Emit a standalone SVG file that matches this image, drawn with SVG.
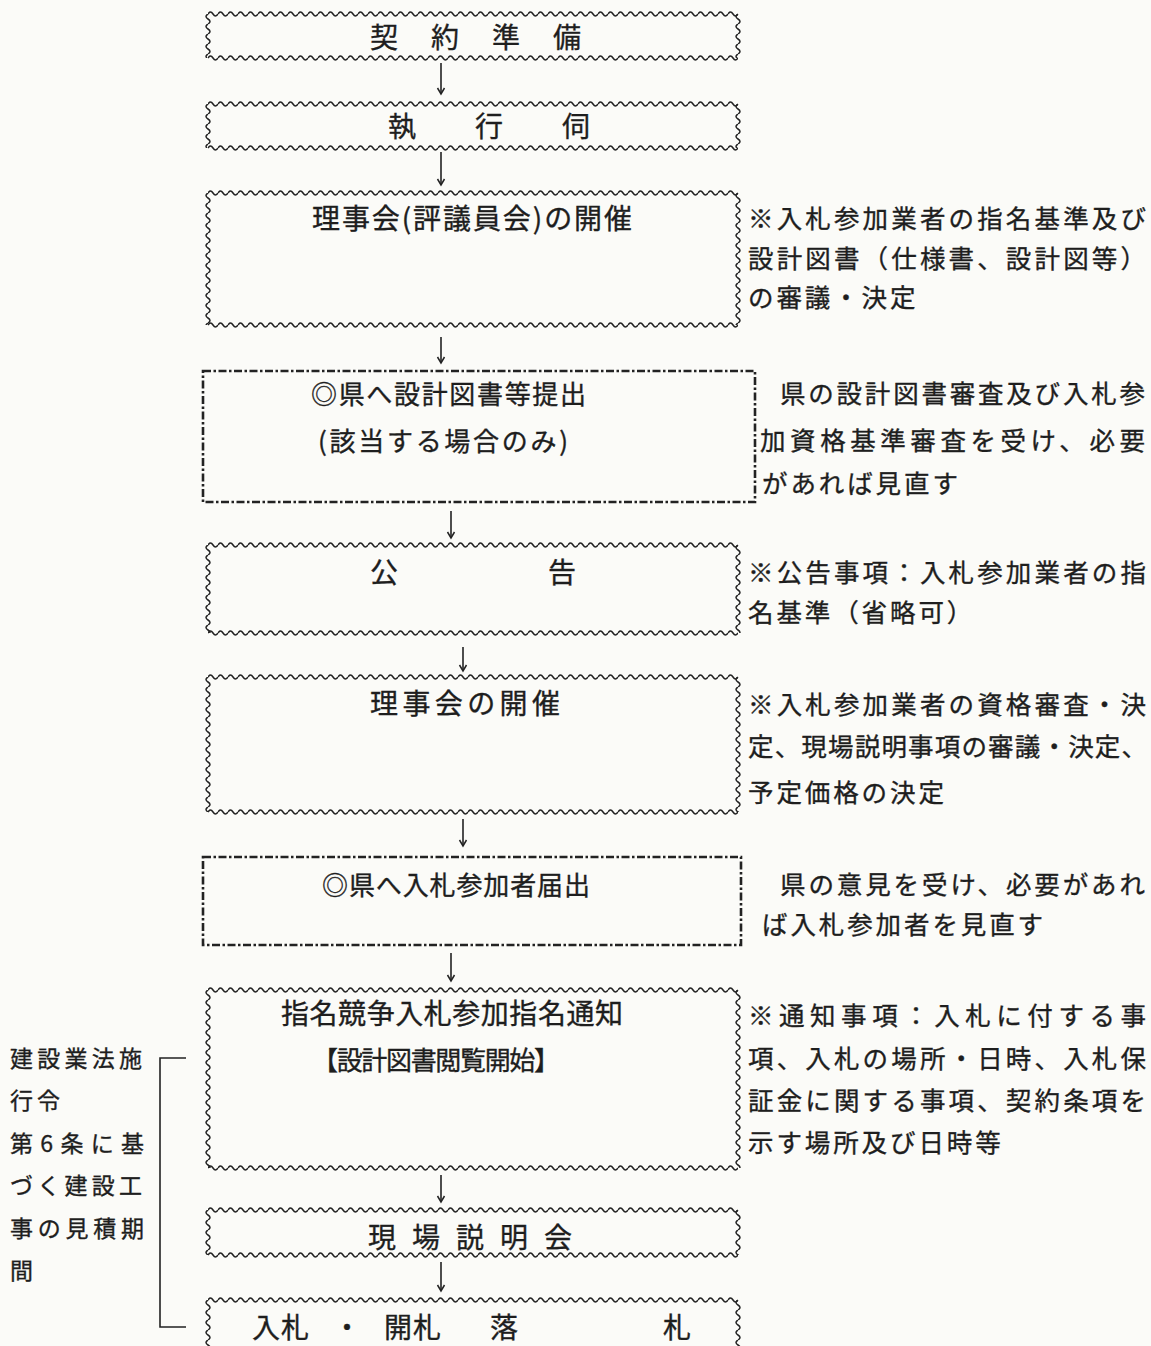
<svg xmlns="http://www.w3.org/2000/svg" width="1151" height="1346" viewBox="0 0 1151 1346">
<defs>
<style>
.t{font-family:"Noto Sans CJK JP","Noto Sans CJK SC",sans-serif;fill:#1e1e1e;stroke:#1e1e1e;stroke-width:0.35}
.title{font-size:28px}
.sub{font-size:26px}
.note{font-size:25.5px;letter-spacing:2.9px}
.full{font-size:25.5px}
.side{font-size:23px;letter-spacing:4px}
.wh{fill:url(#wh)}
.wv{fill:url(#wv)}
.dash{fill:none;stroke:#222;stroke-width:2.6;stroke-dasharray:8 2.5 2.5 2.5}
.conn{fill:none;stroke:#222;stroke-width:1.6}
</style>
<pattern id="wh" patternUnits="userSpaceOnUse" x="0" y="-5" width="10" height="10">
<path d="M0 5 Q2.5 1 5 5 T10 5" fill="none" stroke="#222" stroke-width="1.5"/>
</pattern>
<pattern id="wv" patternUnits="userSpaceOnUse" x="-5" y="0" width="10" height="10">
<path d="M5 0 Q1 2.5 5 5 T5 10" fill="none" stroke="#222" stroke-width="1.5"/>
</pattern>
<marker id="ah" markerUnits="userSpaceOnUse" viewBox="-8 -5 10 10" markerWidth="10" markerHeight="10" refX="0" refY="0" orient="auto">
<path d="M-6 -3.5 L0 0 L-6 3.5" fill="none" stroke="#222" stroke-width="1.5"/>
</marker>
</defs>
<rect x="0" y="0" width="1151" height="1346" fill="#fbfbf8"/>

<g id="connectors">
<line class="conn" x1="441" y1="63" x2="441" y2="94" marker-end="url(#ah)"/>
<line class="conn" x1="441" y1="152" x2="441" y2="185" marker-end="url(#ah)"/>
<line class="conn" x1="441" y1="337" x2="441" y2="363" marker-end="url(#ah)"/>
<line class="conn" x1="451" y1="511" x2="451" y2="538" marker-end="url(#ah)"/>
<line class="conn" x1="463" y1="647" x2="463" y2="671" marker-end="url(#ah)"/>
<line class="conn" x1="463" y1="819" x2="463" y2="846" marker-end="url(#ah)"/>
<line class="conn" x1="451" y1="953" x2="451" y2="981" marker-end="url(#ah)"/>
<line class="conn" x1="441" y1="1175" x2="441" y2="1202" marker-end="url(#ah)"/>
<line class="conn" x1="441" y1="1262" x2="441" y2="1291" marker-end="url(#ah)"/>
<path class="conn" d="M186 1058 H160 V1327 H186"/>
</g>

<g id="n1" transform="translate(208,14)">
<rect class="wh" x="0" y="-5" width="530" height="10"/>
<rect class="wh" x="0" y="-5" width="530" height="10" transform="translate(0,44)"/>
<rect class="wv" x="-5" y="0" width="10" height="44"/>
<rect class="wv" x="-5" y="0" width="10" height="44" transform="translate(530,0)"/>
</g>
<text class="t title" x="370 431 492 553" y="48">契約準備</text>

<g id="n2" transform="translate(208,104)">
<rect class="wh" x="0" y="-5" width="530" height="10"/>
<rect class="wh" x="0" y="-5" width="530" height="10" transform="translate(0,44)"/>
<rect class="wv" x="-5" y="0" width="10" height="44"/>
<rect class="wv" x="-5" y="0" width="10" height="44" transform="translate(530,0)"/>
</g>
<text class="t title" x="388 475 562" y="137">執行伺</text>

<g id="n3" transform="translate(208,193)">
<rect class="wh" x="0" y="-5" width="530" height="10"/>
<rect class="wh" x="0" y="-5" width="530" height="10" transform="translate(0,132)"/>
<rect class="wv" x="-5" y="0" width="10" height="132"/>
<rect class="wv" x="-5" y="0" width="10" height="132" transform="translate(530,0)"/>
</g>
<text class="t title" x="312" y="229" textLength="320" lengthAdjust="spacing">理事会(評議員会)の開催</text>
<text class="t full" x="748" y="228" textLength="398" lengthAdjust="spacing">※入札参加業者の指名基準及び</text>
<text class="t full" x="748" y="268" textLength="398" lengthAdjust="spacing">設計図書（仕様書、設計図等）</text>
<text class="t note" x="748" y="307">の審議・決定</text>

<g id="n4">
<rect class="dash" x="203" y="371" width="552" height="131"/>
</g>
<text class="t sub" x="311" y="404" textLength="275" lengthAdjust="spacing">◎県へ設計図書等提出</text>
<text class="t sub" x="318" y="451" textLength="250" lengthAdjust="spacing">(該当する場合のみ)</text>
<text class="t full" x="780" y="403" textLength="365" lengthAdjust="spacing">県の設計図書審査及び入札参</text>
<text class="t full" x="760" y="450" textLength="385" lengthAdjust="spacing">加資格基準審査を受け、必要</text>
<text class="t note" x="762" y="493">があれば見直す</text>

<g id="n5" transform="translate(208,545)">
<rect class="wh" x="0" y="-5" width="530" height="10"/>
<rect class="wh" x="0" y="-5" width="530" height="10" transform="translate(0,88)"/>
<rect class="wv" x="-5" y="0" width="10" height="88"/>
<rect class="wv" x="-5" y="0" width="10" height="88" transform="translate(530,0)"/>
</g>
<text class="t title" x="370 548" y="583">公告</text>
<text class="t full" x="748" y="582" textLength="398" lengthAdjust="spacing">※公告事項：入札参加業者の指</text>
<text class="t note" x="748" y="622">名基準（省略可）</text>

<g id="n6" transform="translate(208,677)">
<rect class="wh" x="0" y="-5" width="530" height="10"/>
<rect class="wh" x="0" y="-5" width="530" height="10" transform="translate(0,135)"/>
<rect class="wv" x="-5" y="0" width="10" height="135"/>
<rect class="wv" x="-5" y="0" width="10" height="135" transform="translate(530,0)"/>
</g>
<text class="t title" x="370" y="714" textLength="190" lengthAdjust="spacing">理事会の開催</text>
<text class="t full" x="748" y="714" textLength="398" lengthAdjust="spacing">※入札参加業者の資格審査・決</text>
<text class="t full" x="748" y="756" textLength="399" lengthAdjust="spacing">定、現場説明事項の審議・決定、</text>
<text class="t note" x="748" y="802">予定価格の決定</text>

<g id="n7">
<rect class="dash" x="203" y="857" width="538" height="88"/>
</g>
<text class="t sub" x="322" y="895" textLength="268" lengthAdjust="spacing">◎県へ入札参加者届出</text>
<text class="t full" x="780" y="894" textLength="365" lengthAdjust="spacing">県の意見を受け、必要があれ</text>
<text class="t note" x="762" y="934">ば入札参加者を見直す</text>

<g id="n8" transform="translate(208,990)">
<rect class="wh" x="0" y="-5" width="530" height="10"/>
<rect class="wh" x="0" y="-5" width="530" height="10" transform="translate(0,178)"/>
<rect class="wv" x="-5" y="0" width="10" height="178"/>
<rect class="wv" x="-5" y="0" width="10" height="178" transform="translate(530,0)"/>
</g>
<text class="t title" x="281" y="1024" textLength="342" lengthAdjust="spacing">指名競争入札参加指名通知</text>
<text class="t sub" x="312" y="1070" textLength="248" lengthAdjust="spacing">【設計図書閲覧開始】</text>
<text class="t full" x="748" y="1025" textLength="398" lengthAdjust="spacing">※通知事項：入札に付する事</text>
<text class="t full" x="748" y="1068" textLength="398" lengthAdjust="spacing">項、入札の場所・日時、入札保</text>
<text class="t full" x="748" y="1110" textLength="398" lengthAdjust="spacing">証金に関する事項、契約条項を</text>
<text class="t note" x="748" y="1152">示す場所及び日時等</text>

<g id="side">
<text class="t side" x="10" y="1067" textLength="136" lengthAdjust="spacing">建設業法施</text>
<text class="t side" x="10" y="1109">行令</text>
<text class="t side" x="10" y="1152" textLength="138" lengthAdjust="spacing">第6条に基</text>
<text class="t side" x="10" y="1194" textLength="136" lengthAdjust="spacing">づく建設工</text>
<text class="t side" x="10" y="1237" textLength="138" lengthAdjust="spacing">事の見積期</text>
<text class="t side" x="10" y="1279">間</text>
</g>

<g id="n9" transform="translate(208,1210)">
<rect class="wh" x="0" y="-5" width="530" height="10"/>
<rect class="wh" x="0" y="-5" width="530" height="10" transform="translate(0,45)"/>
<rect class="wv" x="-5" y="0" width="10" height="45"/>
<rect class="wv" x="-5" y="0" width="10" height="45" transform="translate(530,0)"/>
</g>
<text class="t title" x="368 412 456 500 544" y="1248">現場説明会</text>

<g id="n10" transform="translate(208,1300)">
<rect class="wh" x="0" y="-5" width="530" height="10"/>
<rect class="wv" x="-5" y="0" width="10" height="50"/>
<rect class="wv" x="-5" y="0" width="10" height="50" transform="translate(530,0)"/>
</g>
<text class="t title" x="252 281 333 384 413 490 663" y="1338">入札・開札落札</text>
</svg>
